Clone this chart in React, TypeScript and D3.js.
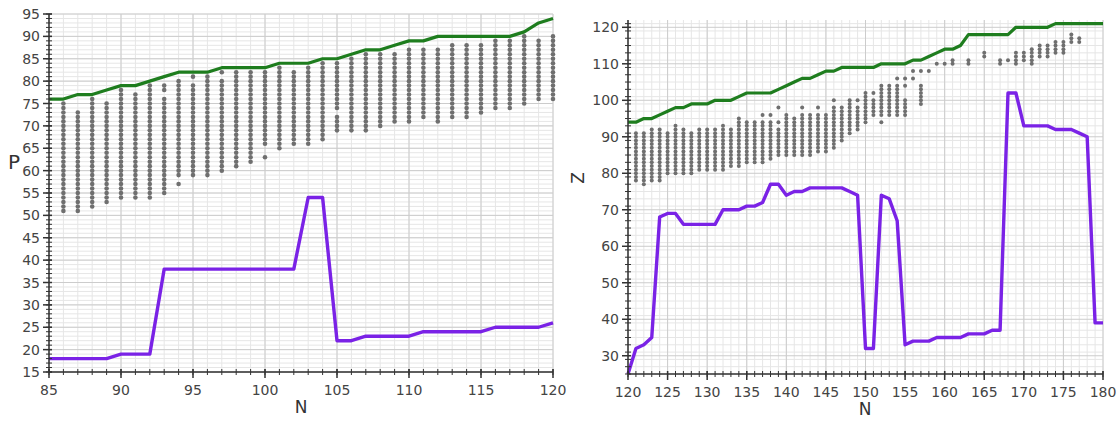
import React from "react";
import * as d3 from "d3";

// ---- left panel data (N vs P) ----
const leftN = [85, 86, 87, 88, 89, 90, 91, 92, 93, 94, 95, 96, 97, 98, 99, 100, 101, 102, 103, 104, 105, 106, 107, 108, 109, 110, 111, 112, 113, 114, 115, 116, 117, 118, 119, 120];
const leftGreen = [76, 76, 77, 77, 78, 79, 79, 80, 81, 82, 82, 82, 83, 83, 83, 83, 84, 84, 84, 85, 85, 86, 87, 87, 88, 89, 89, 90, 90, 90, 90, 90, 90, 91, 93, 94];
const leftPurple = [18, 18, 18, 18, 18, 19, 19, 19, 38, 38, 38, 38, 38, 38, 38, 38, 38, 38, 54, 54, 22, 22, 23, 23, 23, 23, 24, 24, 24, 24, 24, 25, 25, 25, 25, 26];
// [N, lowest P, highest P] runs of grey points
const leftDots: [number, number, number][] = [
  [86, 51, 75], [87, 51, 73], [88, 52, 76], [89, 53, 75], [90, 54, 78], [91, 54, 77],
  [92, 54, 79], [93, 55, 76], [93, 78, 79], [94, 59, 80], [94, 57, 57], [95, 59, 79], [95, 81, 81],
  [96, 59, 81], [97, 60, 80], [97, 82, 82], [98, 61, 82], [99, 62, 82], [100, 66, 82], [100, 63, 63],
  [101, 65, 83], [102, 66, 82], [103, 66, 83], [104, 67, 84], [105, 69, 72], [105, 74, 84],
  [106, 69, 85], [107, 69, 86], [108, 70, 86], [109, 71, 86], [110, 71, 87], [111, 72, 87],
  [112, 71, 87], [113, 72, 88], [114, 72, 88], [115, 73, 88], [116, 74, 89], [117, 74, 89],
  [118, 75, 90], [119, 76, 89], [120, 76, 90],
];
const leftXTicks = [85, 90, 95, 100, 105, 110, 115, 120];
const leftYTicks = [15, 20, 25, 30, 35, 40, 45, 50, 55, 60, 65, 70, 75, 80, 85, 90, 95];

// ---- right panel data (N vs Z) ----
const rightN = [120, 121, 122, 123, 124, 125, 126, 127, 128, 129, 130, 131, 132, 133, 134, 135, 136, 137, 138, 139, 140, 141, 142, 143, 144, 145, 146, 147, 148, 149, 150, 151, 152, 153, 154, 155, 156, 157, 158, 159, 160, 161, 162, 163, 164, 165, 166, 167, 168, 169, 170, 171, 172, 173, 174, 175, 176, 177, 178, 179, 180];
const rightGreen = [94, 94, 95, 95, 96, 97, 98, 98, 99, 99, 99, 100, 100, 100, 101, 102, 102, 102, 102, 103, 104, 105, 106, 106, 107, 108, 108, 109, 109, 109, 109, 109, 110, 110, 110, 110, 111, 111, 112, 113, 114, 114, 115, 118, 118, 118, 118, 118, 118, 120, 120, 120, 120, 120, 121, 121, 121, 121, 121, 121, 121];
const rightPurple = [25, 32, 33, 35, 68, 69, 69, 66, 66, 66, 66, 66, 70, 70, 70, 71, 71, 72, 77, 77, 74, 75, 75, 76, 76, 76, 76, 76, 75, 74, 32, 32, 74, 73, 67, 33, 34, 34, 34, 35, 35, 35, 35, 36, 36, 36, 37, 37, 102, 102, 93, 93, 93, 93, 92, 92, 92, 91, 90, 39, 39];
const rightDots: [number, number, number][] = [
  [121, 78, 91], [122, 77, 91], [123, 78, 92], [124, 78, 92], [125, 80, 91], [126, 80, 93],
  [127, 80, 92], [128, 80, 91], [129, 81, 92], [130, 81, 92], [131, 81, 92], [132, 81, 93],
  [133, 82, 92], [134, 82, 95], [135, 83, 94], [136, 83, 94], [137, 83, 94], [137, 96, 96],
  [138, 84, 94], [138, 96, 96], [139, 85, 92], [139, 94, 94], [139, 98, 98], [140, 85, 96],
  [141, 85, 95], [142, 85, 96], [142, 98, 98], [143, 85, 96], [144, 86, 96], [144, 98, 98],
  [145, 86, 96], [146, 87, 98], [146, 100, 100], [147, 89, 98], [148, 91, 100], [149, 92, 98],
  [149, 100, 100], [150, 94, 102], [151, 96, 100], [151, 102, 102], [152, 94, 94], [152, 96, 104],
  [153, 96, 104], [154, 96, 104], [154, 106, 106], [155, 96, 100], [155, 104, 104], [155, 106, 106],
  [156, 106, 106], [156, 108, 108], [157, 99, 104], [157, 108, 108], [158, 108, 108], [159, 110, 110],
  [160, 110, 110], [161, 110, 111], [163, 110, 111], [165, 112, 113], [167, 110, 111], [168, 111, 111],
  [169, 110, 113], [170, 111, 113], [171, 110, 114], [172, 112, 115], [173, 112, 115], [174, 113, 116],
  [175, 113, 116], [176, 116, 118], [177, 116, 117],
];
const rightXTicks = [120, 125, 130, 135, 140, 145, 150, 155, 160, 165, 170, 175, 180];
const rightYTicks = [30, 40, 50, 60, 70, 80, 90, 100, 110, 120];

const GREEN = "#1e7d1e";
const PURPLE = "#7a22e6";
const DOT = "#6f6f6f";
const AXIS = "#333";
const FONT = "DejaVu Sans, Arial, sans-serif";

type PanelProps = {
  n: number[];
  green: number[];
  purple: number[];
  dots: [number, number, number][];
  xDomain: [number, number];
  yDomain: [number, number];
  xRange: [number, number];
  yRange: [number, number];
  xTicks: number[];
  yTicks: number[];
  xMinorStep: number;
  yMinorStep: number;
  yMajorStep: number;
  yLabel: string;
  yLabelPos: [number, number];
  yLabelRotate: boolean;
  xLabelX: number;
  dotR: number;
};

function Panel(p: PanelProps) {
  const x = d3.scaleLinear().domain(p.xDomain).range(p.xRange);
  const y = d3.scaleLinear().domain(p.yDomain).range(p.yRange);
  const [x0, x1] = p.xRange;
  const [yb, yt] = p.yRange;

  const xMinor = d3.range(p.xDomain[0], p.xDomain[1] + 0.001, p.xMinorStep);
  const yMinor = d3.range(Math.ceil(p.yDomain[0]), p.yDomain[1] + 0.001, p.yMinorStep);
  const yGridMajor = d3.range(Math.ceil(p.yDomain[0] / p.yMajorStep) * p.yMajorStep, p.yDomain[1] + 0.001, p.yMajorStep);

  const line = d3
    .line<number>()
    .x((_, i) => x(p.n[i]))
    .y((d) => y(d));

  const points: { n: number; v: number }[] = [];
  p.dots.forEach(([n, lo, hi]) => {
    for (let v = lo; v <= hi; v++) points.push({ n, v });
  });

  return (
    <g>
      {/* minor grid */}
      {xMinor.map((t) => (
        <line key={"vx" + t} x1={x(t)} x2={x(t)} y1={yb} y2={yt} stroke="#e6e6e6" strokeWidth={1} />
      ))}
      {yMinor.map((t) => (
        <line key={"hy" + t} x1={x0} x2={x1} y1={y(t)} y2={y(t)} stroke="#e6e6e6" strokeWidth={1} />
      ))}
      {/* major grid */}
      {p.xTicks.map((t) => (
        <line key={"VX" + t} x1={x(t)} x2={x(t)} y1={yb} y2={yt} stroke="#cccccc" strokeWidth={1} />
      ))}
      {yGridMajor.map((t) => (
        <line key={"HY" + t} x1={x0} x2={x1} y1={y(t)} y2={y(t)} stroke="#cccccc" strokeWidth={1} />
      ))}

      {/* grey points */}
      {points.map((d, i) => (
        <circle key={"d" + i} cx={x(d.n)} cy={y(d.v)} r={p.dotR} fill={DOT} />
      ))}

      <path d={line(p.green) || ""} fill="none" stroke={GREEN} strokeWidth={3.2} strokeLinejoin="round" />
      <path d={line(p.purple) || ""} fill="none" stroke={PURPLE} strokeWidth={3.4} strokeLinejoin="round" />

      {/* axes */}
      <line x1={x0} x2={x1} y1={yb} y2={yb} stroke={AXIS} strokeWidth={1.5} />
      <line x1={x0} x2={x0} y1={yb} y2={yt} stroke={AXIS} strokeWidth={1.5} />
      {xMinor.map((t) => (
        <line key={"tx" + t} x1={x(t)} x2={x(t)} y1={yb - 3} y2={yb + 3} stroke={AXIS} strokeWidth={1} />
      ))}
      {yMinor.map((t) => (
        <line key={"ty" + t} x1={x0 - 3} x2={x0 + 3} y1={y(t)} y2={y(t)} stroke={AXIS} strokeWidth={1} />
      ))}
      {p.xTicks.map((t) => (
        <g key={"X" + t}>
          <line x1={x(t)} x2={x(t)} y1={yb - 3} y2={yb + 6} stroke={AXIS} strokeWidth={1.5} />
          <text x={x(t)} y={yb + 23} textAnchor="middle" fontSize={14} fill="#444" fontFamily={FONT}>
            {t}
          </text>
        </g>
      ))}
      {p.yTicks.map((t) => (
        <g key={"Y" + t}>
          <line x1={x0 - 6} x2={x0 + 3} y1={y(t)} y2={y(t)} stroke={AXIS} strokeWidth={1.5} />
          <text x={x0 - 9} y={y(t) + 5} textAnchor="end" fontSize={14} fill="#444" fontFamily={FONT}>
            {t}
          </text>
        </g>
      ))}

      <text x={p.xLabelX} y={yb + 41} textAnchor="middle" fontSize={17} fill="#333" fontFamily={FONT}>
        N
      </text>
      <text
        x={p.yLabelPos[0]}
        y={p.yLabelPos[1]}
        textAnchor="middle"
        fontSize={p.yLabelRotate ? 17 : 20}
        fill="#333"
        fontFamily={FONT}
        transform={p.yLabelRotate ? `rotate(-90, ${p.yLabelPos[0]}, ${p.yLabelPos[1]})` : undefined}
      >
        {p.yLabel}
      </text>
    </g>
  );
}

export default function App() {
  return (
    <svg
      width={1117}
      height={421}
      style={{ position: "absolute", left: 0, top: 0, background: "#fff" }}
    >
      <Panel
        n={leftN}
        green={leftGreen}
        purple={leftPurple}
        dots={leftDots}
        xDomain={[85, 120]}
        yDomain={[15, 95]}
        xRange={[49, 553]}
        yRange={[372, 14]}
        xTicks={leftXTicks}
        yTicks={leftYTicks}
        xMinorStep={1}
        yMinorStep={1}
        yMajorStep={5}
        yLabel="P"
        yLabelPos={[14, 169]}
        yLabelRotate={false}
        xLabelX={301}
        dotR={2.3}
      />
      <Panel
        n={rightN}
        green={rightGreen}
        purple={rightPurple}
        dots={rightDots}
        xDomain={[120, 180]}
        yDomain={[25, 122]}
        xRange={[628, 1103]}
        yRange={[374, 20]}
        xTicks={rightXTicks}
        yTicks={rightYTicks}
        xMinorStep={1}
        yMinorStep={2}
        yMajorStep={10}
        yLabel="Z"
        yLabelPos={[584, 178]}
        yLabelRotate={true}
        xLabelX={865}
        dotR={2.0}
      />
    </svg>
  );
}
